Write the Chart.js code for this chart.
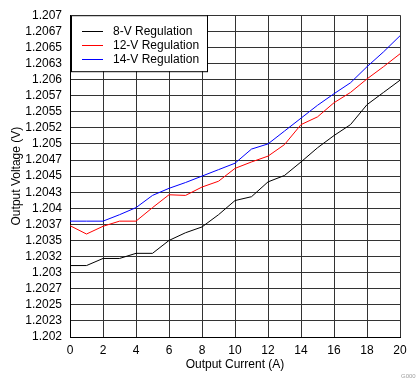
<!DOCTYPE html>
<html>
<head>
<meta charset="utf-8">
<script src="https://cdn.jsdelivr.net/npm/chart.js@4/dist/chart.umd.min.js"></script>
<style>
  html, body { margin: 0; padding: 0; background: #fff; }
  #wrap { position: relative; width: 419px; height: 382px; }
  #note { position: absolute; left: 401px; top: 373px; font: 6px "Liberation Sans", Arial, sans-serif; color: #a0a0a0; }
</style>
</head>
<body>
<div id="wrap">
  <canvas id="c" width="419" height="382"></canvas>
  <div id="note">G000</div>
</div>
<script>
const current = [0,1,2,3,4,5,6,7,8,9,10,11,12,13,14,15,16,17,18,19,20];
const reg8V  = [1.20311,1.20311,1.20322,1.20322,1.2033,1.2033,1.2035,1.20362,1.20371,1.2039,1.20412,1.20418,1.20441,1.20451,1.20472,1.20494,1.20513,1.2053,1.20561,1.2058,1.20599];
const reg12V = [1.20373,1.2036,1.20372,1.2038,1.2038,1.20401,1.20421,1.2042,1.20433,1.20442,1.20462,1.20472,1.20481,1.20499,1.2053,1.20542,1.20564,1.2058,1.20601,1.2062,1.2064];
const reg14V = [1.2038,1.2038,1.2038,1.2039,1.20401,1.2042,1.20431,1.2044,1.2045,1.2046,1.2047,1.20492,1.205,1.2052,1.2054,1.2056,1.20578,1.20595,1.2062,1.20643,1.20668];
const seriesNames = ["8-V Regulation", "12-V Regulation", "14-V Regulation"];
const yTickLabels = ["1.202","1.2023","1.2025","1.2027","1.203","1.2032","1.2035","1.2037","1.204","1.2043","1.2045","1.2047","1.205","1.2052","1.2055","1.2057","1.206","1.2063","1.2065","1.2067","1.207"];
const yMin = 1.202, yMax = 1.207, yStep = 0.00025;
const xTickValues = [0,2,4,6,8,10,12,14,16,18,20];

const FONT = { family: '"Liberation Sans", Arial, sans-serif', size: 12 };

const legendBox = {
  id: 'legendBox',
  afterDatasetsDraw(chart) {
    const ctx = chart.ctx;
    const x0 = chart.chartArea.left + 1, y0 = chart.chartArea.top;
    const w = 136, h = 56;
    ctx.save();
    ctx.fillStyle = '#fff';
    ctx.fillRect(x0, y0, w, h);
    ctx.strokeStyle = '#000';
    ctx.lineWidth = 1;
    ctx.strokeRect(x0 + 0.5, y0 + 0.5, w, h);
    ctx.font = '12px ' + FONT.family;
    ctx.textBaseline = 'middle';
    chart.data.datasets.forEach((ds, i) => {
      const y = y0 + 16 + i * 14;
      ctx.strokeStyle = ds.borderColor;
      ctx.beginPath();
      ctx.moveTo(x0 + 11, Math.round(y) + 0.5);
      ctx.lineTo(x0 + 32, Math.round(y) + 0.5);
      ctx.stroke();
      ctx.fillStyle = '#000';
      ctx.fillText(ds.label, x0 + 42, y + 0.5);
    });
    ctx.restore();
  }
};

const mk = (arr) => current.map((x, i) => ({ x: x, y: arr[i] }));

new Chart(document.getElementById('c'), {
  type: 'line',
  data: {
    datasets: [
      { label: seriesNames[0], data: mk(reg8V),  borderColor: '#000000', borderWidth: 1, pointRadius: 0, tension: 0 },
      { label: seriesNames[1], data: mk(reg12V), borderColor: '#ff0000', borderWidth: 1, pointRadius: 0, tension: 0 },
      { label: seriesNames[2], data: mk(reg14V), borderColor: '#0000ff', borderWidth: 1, pointRadius: 0, tension: 0 }
    ]
  },
  options: {
    responsive: false,
    animation: false,
    layout: { padding: { left: 0, top: 7, right: 19, bottom: 0 } },
    plugins: { legend: { display: false }, tooltip: { enabled: false } },
    scales: {
      x: {
        type: 'linear', min: 0, max: 20,
        afterFit(s) { s.height = 45; },
        afterBuildTicks(s) { s.ticks = xTickValues.map(v => ({ value: v })); },
        grid: { color: '#333', drawTicks: false, lineWidth: 1 },
        border: { color: '#000', width: 1 },
        ticks: { color: '#000', font: FONT, padding: 6, maxRotation: 0, autoSkip: false },
        title: { display: true, text: 'Output Current (A)', color: '#000', font: FONT, padding: { top: 0, bottom: 10 } }
      },
      y: {
        type: 'linear', min: yMin, max: yMax,
        afterFit(s) { s.width = 70; },
        afterBuildTicks(s) { s.ticks = yTickLabels.map((l, i) => ({ value: yMin + i * yStep })); },
        grid: { color: '#333', drawTicks: false, lineWidth: 1 },
        border: { color: '#000', width: 1 },
        ticks: { color: '#000', font: FONT, padding: 8, autoSkip: false, callback: (v, i) => yTickLabels[i] },
        title: { display: true, text: 'Output Voltage (V)', color: '#000', font: FONT, padding: { top: 9, bottom: 0 } }
      }
    }
  },
  plugins: [legendBox]
});
</script>
</body>
</html>
